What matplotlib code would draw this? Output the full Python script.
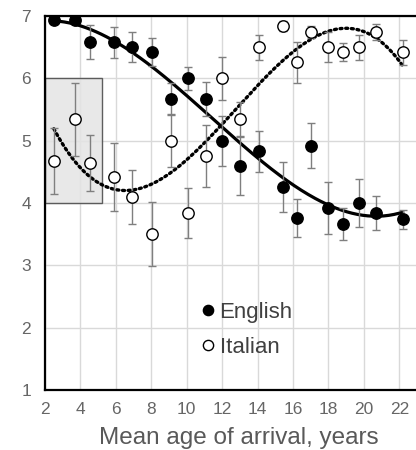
import numpy as np
import matplotlib
matplotlib.use("Agg")
import matplotlib.pyplot as plt
from matplotlib.patches import Rectangle

# ---- data ----
age = [2.5, 3.7, 4.55, 5.9, 6.9, 8.05, 9.1, 10.1, 11.1, 12.0,
       13.0, 14.1, 15.45, 16.2, 17.0, 18.0, 18.8, 19.75, 20.7, 22.2]
english = [6.94, 6.93, 6.58, 6.58, 6.50, 6.42, 5.67, 6.00, 5.67, 5.00,
           4.60, 4.83, 4.26, 3.76, 4.92, 3.92, 3.66, 4.00, 3.84, 3.74]
english_err = [0.05, 0.05, 0.27, 0.25, 0.24, 0.22, 0.26, 0.18, 0.27, 0.40,
               0.47, 0.33, 0.40, 0.30, 0.36, 0.42, 0.26, 0.39, 0.27, 0.15]
italian = [4.67, 5.34, 4.64, 4.42, 4.10, 3.50, 5.00, 3.84, 4.75, 6.00,
           5.34, 6.50, 6.84, 6.26, 6.74, 6.50, 6.42, 6.50, 6.74, 6.42]
italian_err = [0.53, 0.58, 0.45, 0.55, 0.43, 0.51, 0.42, 0.40, 0.50, 0.35,
               0.28, 0.20, 0.08, 0.33, 0.10, 0.24, 0.14, 0.20, 0.13, 0.20]
xticks = [2, 4, 6, 8, 10, 12, 14, 16, 18, 20, 22]
yticks = [1, 2, 3, 4, 5, 6, 7]
labels = ["English", "Italian"]
xlabel = "Mean age of arrival, years"

plt.rcParams['font.family'] = ['Liberation Sans', 'DejaVu Sans']

fig = plt.figure(figsize=(4.16, 4.5), dpi=100)
ax = fig.add_axes([45/416, 60/450, 372/416, 374/450])

ax.set_xlim(2, 23)
ax.set_ylim(1, 7)
ax.set_xticks(xticks)
ax.set_yticks(yticks)
ax.grid(True, color='#d9d9d9', lw=1.0)
ax.set_axisbelow(True)

ax.add_patch(Rectangle((2, 4), 3.2, 2, facecolor='#e4e4e4', edgecolor='#444444',
                       lw=1.0, alpha=0.85, zorder=1))

# polynomial trend lines (3rd order), as in the original
xs = np.linspace(min(age), max(age), 200)
pe = np.polyfit(age, english, 3)
pi = np.polyfit(age, italian, 3)
ax.plot(xs, np.polyval(pe, xs), color='black', lw=2.3, zorder=3,
        solid_capstyle='round')
ax.plot(xs, np.polyval(pi, xs), color='black', lw=2.4, ls=(0, (0.6, 1.1)),
        dash_capstyle='round', zorder=3)

ekw = dict(ecolor='#7f7f7f', elinewidth=1.0, capsize=3.2, capthick=1.0, ls='none', zorder=4)
ax.errorbar(age, english, yerr=english_err, **ekw)
ax.errorbar(age, italian, yerr=italian_err, **ekw)
ax.plot(age, english, 'o', ms=8.2, mfc='black', mec='black', mew=1.0, zorder=5,
        label=labels[0])
ax.plot(age, italian, 'o', ms=8.2, mfc='white', mec='black', mew=1.0, zorder=5,
        label=labels[1])

leg = ax.legend(loc='upper left', bbox_to_anchor=(159/372, (390-302)/374),
                frameon=False, fontsize=16, handlelength=0.4, handletextpad=0.3,
                labelspacing=0.62, markerscale=0.9, borderaxespad=0, borderpad=0,
                labelcolor='#404040')

for s in ['left', 'bottom', 'top']:
    ax.spines[s].set_linewidth(1.6)
    ax.spines[s].set_color('black')
ax.spines['right'].set_visible(False)

ax.tick_params(length=0, labelsize=12.5, labelcolor='#666666')
ax.tick_params(axis='x', pad=9)
ax.tick_params(axis='y', pad=10)
ax.set_xlabel(xlabel, fontsize=17.5, color='#595959')
ax.xaxis.set_label_coords((239 - 45) / 372, -0.098)
ax.xaxis.label.set_va('top')

fig.savefig('out.png', dpi=100)
